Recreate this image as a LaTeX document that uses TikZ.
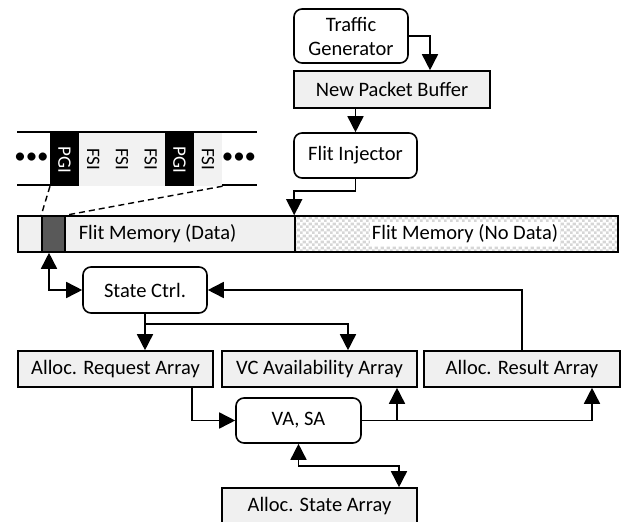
\documentclass[tikz,border=0pt]{standalone}
\usepackage{fontspec}
\setmainfont{Carlito}
\usetikzlibrary{arrows.meta,patterns.meta,calc}
\tikzdeclarepattern{
  name=mychk,
  type=colored,
  bottom left={(0pt,0pt)},
  top right={(6pt,6pt)},
  tile size={(6pt,6pt)},
  code={
    \fill[black!16] (0pt,0pt) rectangle (3pt,3pt);
    \fill[black!16] (3pt,3pt) rectangle (6pt,6pt);
  }
}
\tikzset{
  base/.style={draw=black, line width=1.6pt, inner sep=0pt, align=center,
    font=\fontsize{20.5}{24}\selectfont},
  rbox/.style={base, rounded corners=8pt, fill=white},
  gbox/.style={base, fill=black!6},
  conn/.style={line width=1.6pt},
  tip/.style={},
  arr/.style={conn, -{Triangle[width=16pt 0,length=16pt 0]}},
  darr/.style={conn, {Triangle[width=16pt 0,length=16pt 0]}-{Triangle[width=16pt 0,length=16pt 0]}},
  cell/.style={inner sep=0pt, minimum width=28.7pt, minimum height=53pt},
  celltxt/.style={rotate=-90, font=\fontsize{19}{22}\selectfont},
}
\begin{document}
\begin{tikzpicture}[x=1pt,y=-1pt]
\fill[white] (0,0) rectangle (624,522);
\useasboundingbox (0,0) rectangle (624,522);

% top chain
\node[rbox, minimum width=114pt, minimum height=54pt] (tg) at (351,36) {Traffic\\Generator};
\node[gbox, minimum width=196pt, minimum height=37pt] (npb) at (392,89.5) {New Packet Buffer};
\node[rbox, minimum width=123pt, minimum height=45pt] (fi) at (355.5,155.5) {Flit Injector};

% flit memory bar
\node[gbox, minimum width=277pt, minimum height=36pt] (md) at (156.5,234) {};
\node[base, minimum width=323pt, minimum height=36pt, fill=white, pattern=mychk] (mnd) at (456.5,234) {};
\node[base, draw=none, anchor=west] (mdtxt) at (78,234) {Flit Memory (Data)};
\node[base, draw=none, fill=white, inner xsep=2pt, inner ysep=3pt] (mndtxt) at (465,234) {Flit Memory (No Data)};
\node[base, fill=black!65, minimum width=23pt, minimum height=36pt] (slot) at (53.5,234) {};

% strip
\draw[line width=1.6pt] (17,132) -- (257,132);
\draw[line width=1.6pt] (17,185) -- (257,185);
\node[cell, fill=black, anchor=north west] (c1) at (50,132.8) {};
\node[cell, fill=black!5, anchor=north west] (c2) at (78.7,132.8) {};
\node[cell, fill=black!5, anchor=north west] (c3) at (107.4,132.8) {};
\node[cell, fill=black!5, anchor=north west] (c4) at (136.1,132.8) {};
\node[cell, fill=black, anchor=north west] (c5) at (164.8,132.8) {};
\node[cell, fill=black!5, anchor=north west] (c6) at (193.5,132.8) {};
\node[celltxt, text=white] (t1) at (c1) {PGI};
\node[celltxt] (t2) at (c2) {FSI};
\node[celltxt] (t3) at (c3) {FSI};
\node[celltxt] (t4) at (c4) {FSI};
\node[celltxt, text=white] (t5) at (c5) {PGI};
\node[celltxt] (t6) at (c6) {FSI};
\node[font=\fontsize{23}{26}\selectfont, inner sep=0pt] (dl) at (31.5,158) {\textbullet\textbullet\textbullet};
\node[font=\fontsize{23}{26}\selectfont, inner sep=0pt] (dr) at (239,158) {\textbullet\textbullet\textbullet};
\draw[line width=1.4pt, dash pattern=on 6pt off 4pt] (c1.south west) -- (slot.north west);
\draw[line width=1.4pt, dash pattern=on 6pt off 4pt] (c6.south east) -- (slot.north east);

% lower nodes
\node[rbox, minimum width=124pt, minimum height=46pt] (sc) at (145,290) {State Ctrl.};
\node[gbox, minimum width=195pt, minimum height=36pt] (req) at (115.5,369) {Alloc. Request Array};
\node[gbox, minimum width=195pt, minimum height=36pt] (vc) at (319.5,369) {VC Availability Array};
\node[gbox, minimum width=196pt, minimum height=36pt] (res) at (522,369) {Alloc. Result Array};
\node[rbox, minimum width=125pt, minimum height=45pt] (va) at (298.5,420.5) {VA, SA};
\node[gbox, minimum width=195pt, minimum height=36pt] (ast) at (319.5,506) {Alloc. State Array};

% connectors
\draw[arr] (tg.east) -| ([xshift=38pt]npb.north);
\draw[arr] (fi.north |- npb.south) -- (fi.north);
\draw[arr] (fi.south) -- ++(0,12) -| (mnd.north west);
\draw[darr] ([xshift=-4.5pt]slot.south) |- (sc.west);
\draw[arr] (sc.south) -- (sc.south |- req.north);
\draw[arr] (sc.south) ++(0,10) -| ([xshift=28.5pt]vc.north);
\draw[arr] (res.north) |- (sc.east);
\draw[arr] ([xshift=76.5pt]req.south) |- (va.west);
\draw[arr] (va.east) -| ([xshift=70pt]res.south);
\draw[arr] (va.east -| 397,0) -- ([xshift=77.5pt]vc.south);
\draw[darr] (va.south) -- ++(0,22) -| ([xshift=79.5pt]ast.north);
\end{tikzpicture}
\end{document}
